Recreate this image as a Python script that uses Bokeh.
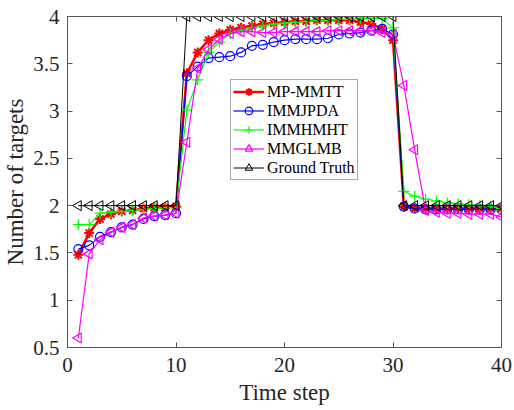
import numpy as np
from bokeh.plotting import figure
from bokeh.models import LinearAxis, FixedTicker, Range1d, CustomLabelingPolicy, CustomJSTickFormatter
from bokeh.embed import file_html
from bokeh.resources import INLINE

time_step = list(range(1, 41))

mp_mmtt = [1.48, 1.71, 1.86, 1.91, 1.94, 1.95, 1.97, 1.98, 1.98, 1.99,
           3.40, 3.62, 3.75, 3.82, 3.86, 3.88, 3.90, 3.92, 3.93, 3.94,
           3.95, 3.95, 3.96, 3.96, 3.96, 3.96, 3.94, 3.92, 3.87, 3.75,
           1.99, 1.97, 1.97, 1.97, 1.97, 1.97, 1.97, 1.97, 1.97, 1.97]

immjpda = [1.54, 1.58, 1.67, 1.72, 1.77, 1.80, 1.86, 1.89, 1.90, 1.92,
           3.37, 3.47, 3.56, 3.57, 3.58, 3.62, 3.69, 3.70, 3.73, 3.75,
           3.76, 3.76, 3.76, 3.77, 3.81, 3.82, 3.83, 3.85, 3.87, 3.81,
           1.99, 1.97, 1.96, 1.96, 1.96, 1.96, 1.96, 1.96, 1.96, 1.96]

immhmht = [1.80, 1.80, 1.92, 1.93, 1.94, 1.95, 1.96, 1.97, 1.98, 1.98,
           3.01, 3.33, 3.62, 3.73, 3.82, 3.85, 3.88, 3.90, 3.92, 3.93,
           3.94, 3.95, 3.96, 3.96, 3.97, 3.97, 3.98, 3.98, 3.98, 3.88,
           2.15, 2.10, 2.07, 2.05, 2.03, 2.02, 2.01, 2.00, 1.99, 1.97]

mmglmb = [0.60, 1.49, 1.64, 1.72, 1.77, 1.80, 1.87, 1.89, 1.90, 1.92,
          2.67, 3.45, 3.65, 3.76, 3.82, 3.84, 3.84, 3.83, 3.83, 3.84,
          3.84, 3.84, 3.84, 3.85, 3.85, 3.85, 3.85, 3.85, 3.83, 3.81,
          3.27, 2.59, 1.95, 1.93, 1.92, 1.92, 1.91, 1.91, 1.91, 1.88]

ground_truth = [2] * 10 + [4] * 20 + [2] * 10

x_ticks = [0, 10, 20, 30, 40]
y_ticks = [0.5, 1, 1.5, 2, 2.5, 3, 3.5, 4]
y_labels = ["0.5", "1", "1.5", "2", "2.5", "3", "3.5", "4"]

FONT = "Liberation Serif"
AXC = "#262626"

p = figure(width=514, height=410, x_range=Range1d(0, 40), y_range=Range1d(0.5, 4),
           output_backend="svg", toolbar_location=None,
           min_border_left=67, min_border_right=13, min_border_top=16, min_border_bottom=63)
p.xgrid.visible = False
p.ygrid.visible = False
p.outline_line_color = "#555555"
p.outline_line_width = 1
p.background_fill_color = "white"
p.border_fill_color = "white"

series = [
    (mp_mmtt, "MP-MMTT", "#ff0000", 2.5, "asterisk", 10, 0.0),
    (immjpda, "IMMJPDA", "#0000ff", 1.2, "circle", 9, 0.0),
    (immhmht, "IMMHMHT", "#00ff00", 1.2, "cross", 11, 0.0),
    (mmglmb, "MMGLMB", "#ff00ff", 1.2, "triangle", 10, np.pi / 2),
    (ground_truth, "Ground Truth", "#000000", 1.0, "triangle", 10, np.pi / 2),
]
for ys, name, col, lw, mk, sz, ang in series:
    p.line(time_step, ys, line_color=col, line_width=lw, legend_label=name)
    p.scatter(time_step, ys, marker=mk, size=sz, angle=ang, line_color=col,
              fill_color=None, line_width=lw if mk != "asterisk" else 2, legend_label=name)

for ax in [p.xaxis[0], p.yaxis[0]]:
    ax.major_tick_in = 5
    ax.major_tick_out = 0
    ax.minor_tick_line_color = None
    ax.axis_line_color = "#555555"
    ax.major_tick_line_color = "#555555"
    ax.major_label_text_font = FONT
    ax.major_label_text_font_size = "21px"
    ax.major_label_text_color = AXC
    ax.axis_label_text_font = FONT
    ax.axis_label_text_font_size = "23px"
    ax.axis_label_text_font_style = "normal"
    ax.axis_label_text_color = AXC

p.xaxis[0].major_label_standoff = 10
p.yaxis[0].major_label_standoff = 8
p.xaxis[0].ticker = FixedTicker(ticks=x_ticks)
p.yaxis[0].ticker = FixedTicker(ticks=y_ticks)
p.yaxis[0].major_label_overrides = {t: l for t, l in zip(y_ticks, y_labels)}
p.xaxis[0].axis_label = "Time step"
p.yaxis[0].axis_label = "Number of targets"
p.xaxis[0].axis_label_standoff = 5
p.yaxis[0].axis_label_standoff = 2

hide_all = CustomLabelingPolicy(code="""
if (indices != null && typeof indices.unset === "function") {
    const n = indices.size;
    for (let i = 0; i < n; i++) { indices.unset(i); }
}
return indices;
""")
for loc, tk in [("right", y_ticks), ("above", x_ticks)]:
    a = LinearAxis(ticker=FixedTicker(ticks=tk), major_label_policy=hide_all,
                   formatter=CustomJSTickFormatter(code="return '';"))
    a.major_tick_in = 5
    a.major_tick_out = 0
    a.minor_tick_line_color = None
    a.axis_line_color = "#555555"
    a.major_tick_line_color = "#555555"
    a.major_label_standoff = 0
    p.add_layout(a, loc)

lg = p.legend[0]
lg.location = (163, 167)
lg.label_text_font = FONT
lg.label_text_font_size = "16px"
lg.label_text_color = "#000000"
lg.glyph_width = 31
lg.glyph_height = 19
lg.label_height = 19
lg.label_standoff = 3
lg.spacing = 0
lg.padding = 2
lg.margin = 0
lg.border_line_color = "#555555"
lg.border_line_width = 1
lg.background_fill_alpha = 1

open("out.html", "w").write(file_html(p, INLINE))
